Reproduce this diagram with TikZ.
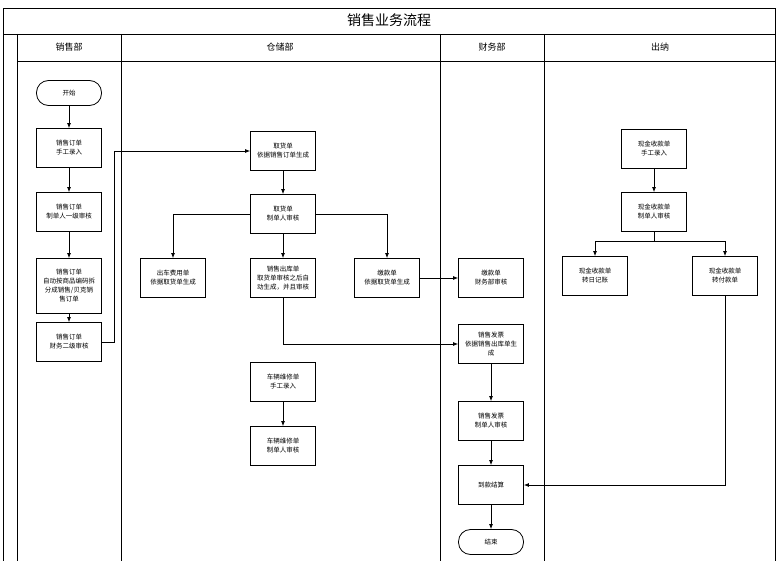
\documentclass[tikz,border=0pt]{standalone}
\usepackage{fontspec}
\newfontfamily\cjk{Noto Sans CJK SC}
\usetikzlibrary{arrows.meta}

\begin{document}
\begin{tikzpicture}[x=1pt,y=-1pt,
    box/.style={draw, line width=0.8pt, minimum width=65pt, minimum height=39pt,
                align=center, inner sep=1pt, font=\cjk\fontsize{6.5}{9}\selectfont},
    term/.style={box, minimum height=25pt, rounded corners=12pt},
    arr/.style={-{Latex[length=5pt,width=4pt]}, line width=0.8pt},
    lane/.style={line width=0.9pt},
    head/.style={font=\cjk\fontsize{9}{11}\selectfont}]
            \useasboundingbox (0,0) rectangle (776,561);

            % Lanes
            \draw[lane] (3,566) -- (3,8) -- (775,8) -- (775,566);
            \draw[lane] (3,34) -- (775,34);
            \draw[lane] (17,61) -- (775,61);
            \foreach \x in {17,121,440,544}
                \draw[lane] (\x,34) -- (\x,566);
            \node[font=\cjk\fontsize{14}{16}\selectfont] (title) at (389,20) {销售业务流程};
            \node[head] (hxs) at (69,47) {销售部};
            \node[head] (hcc) at (280,47) {仓储部};
            \node[head] (hcw) at (492,47) {财务部};
            \node[head] (hcn) at (660,47) {出纳};

            % Sales
            \node[term] (start) at (69,93) {开始};
            \node[box] (so1) at (69,148) {销售订单\\手工录入};
            \node[box] (so2) at (69,212) {销售订单\\制单人一级审核};
            \node[box, minimum height=55pt] (so3) at (69,286) {销售订单\\自动按商品编码拆\\分成销售/贝克销\\售订单};
            \node[box] (so4) at (69,342) {销售订单\\财务二级审核};

            % Warehouse
            \node[box] (qh1) at (283,151) {取货单\\依据销售订单生成};
            \node[box] (qh2) at (283,214) {取货单\\制单人审核};
            \node[box] (cf) at (173,278) {出车费用单\\依据取货单生成};
            \node[box] (ck) at (283,278) {销售出库单\\取货单审核之后自\\动生成，并且审核};
            \node[box] (jk1) at (387,278) {缴款单\\依据取货单生成};
            \node[box] (wx1) at (283,382) {车辆维修单\\手工录入};
            \node[box] (wx2) at (283,446) {车辆维修单\\制单人审核};

            % Finance
            \node[box] (jk2) at (491,278) {缴款单\\财务部审核};
            \node[box] (fp1) at (491,344) {销售发票\\依据销售出库单生\\成};
            \node[box] (fp2) at (491,421) {销售发票\\制单人审核};
            \node[box] (dk) at (491,485) {到款结算};
            \node[term] (stop) at (491,542) {结束};

            % Cashier
            \node[box] (xj1) at (654,149) {现金收款单\\手工录入};
            \node[box] (xj2) at (654,212) {现金收款单\\制单人审核};
            \node[box] (rj) at (595,276) {现金收款单\\转日记账};
            \node[box] (fk) at (725,276) {现金收款单\\转付款单};

            % Arrows
            \draw[arr] (start) -- (so1);
            \draw[arr] (so1) -- (so2);
            \draw[arr] (so2) -- (so3);
            \draw[arr] (so3) -- (so4);
            \draw[arr] (so4.east) -- ++(12,0) |- (qh1.west);
            \draw[arr] (qh1) -- (qh2);
            \draw[arr] (qh2) -- (ck);
            \draw[arr] (qh2.west) -| (cf.north);
            \draw[arr] (qh2.east) -| (jk1.north);
            \draw[arr] (jk1) -- (jk2);
            \draw[arr] (ck.south) |- (fp1.west);
            \draw[arr] (fp1) -- (fp2);
            \draw[arr] (fp2) -- (dk);
            \draw[arr] (dk) -- (stop);
            \draw[arr] (wx1) -- (wx2);
            \draw[arr] (xj1) -- (xj2);
            \draw[arr] (xj2.south) -- ++(0,10) -| (rj.north);
            \draw[arr] (xj2.south) -- ++(0,10) -| (fk.north);
            \draw[arr] (fk.south) |- (dk.east);

\end{tikzpicture}
\end{document}
